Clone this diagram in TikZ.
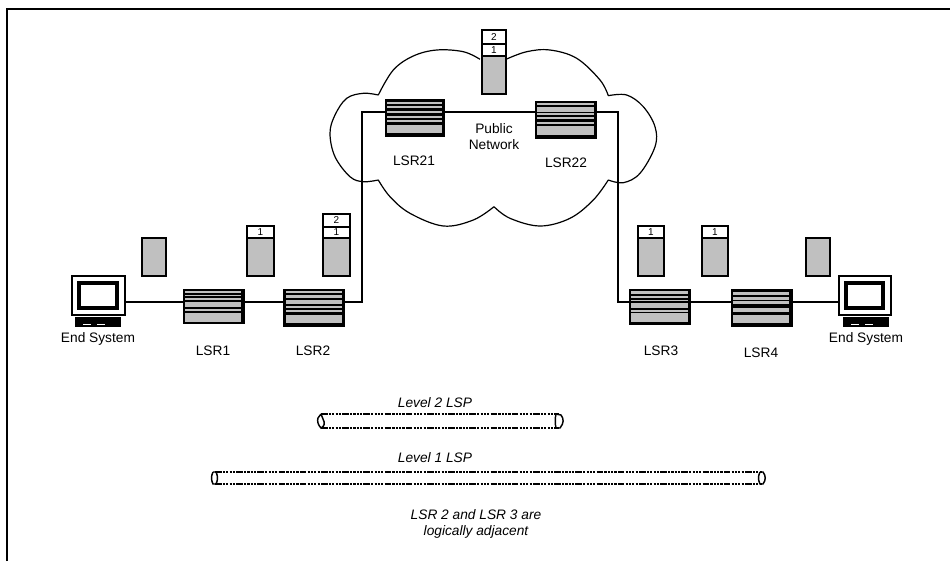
\documentclass[tikz,border=0pt]{standalone}
\usepackage{fontspec}
\setmainfont{Liberation Sans}
\definecolor{pk}{HTML}{C0C0C0}
\tikzset{
  x=0.75pt,y=-0.75pt,
  wire/.style={line width=0.9pt,black},
  lbl/.style={inner sep=0pt,font=\fontsize{10.3}{12}\selectfont},
  ilbl/.style={inner sep=0pt,font=\fontsize{10.3}{12}\selectfont\itshape},
  dig/.style={inner sep=0pt,font=\fontsize{7.5}{9}\selectfont},
  box/.style={draw=black,line width=0.9pt},
  pipeline/.style={line width=1.1pt,dash pattern=on 5pt off .9pt on 1.6pt off .9pt on 1.6pt off .9pt on 1.6pt off .9pt on 1.6pt off .9pt},
  pipeend/.style={line width=1.1pt},
  routerbox/.style={fill=black,inner sep=0pt,outer sep=0pt},
}
% name, x0, y0, x1, y1, inset left, inset right, stripes
\newcommand{\rtr}[8]{%
  \node[routerbox,minimum width={(#4-#2)*0.75pt},minimum height={(#5-#3)*0.75pt}] (#1) at ({(#2+#4)/2},{(#3+#5)/2}) {};
  \foreach \sa/\sb in {#8} {\fill[pk] ({#2+#6},{#3+\sa}) rectangle ({#4-#7},{#3+\sb});}%
}
\newcommand{\pkt}[5]{%
  \node[box,fill=pk,inner sep=0pt,minimum width={(#3-#2)*0.75pt},minimum height={(#5-#4)*0.75pt}] (#1) at ({(#2+#3)/2},{(#4+#5)/2}) {};
}
\newcommand{\lab}[6]{%
  \node[box,fill=white,dig,inner sep=0pt,minimum width={(#3-#2)*0.75pt},minimum height={(#5-#4)*0.75pt}] (#1) at ({(#2+#3)/2},{(#4+#5)/2}) {#6};
}
% name, monitor x0,y0,x1,y1, keyboard x0,x1
\newcommand{\pc}[7]{%
  \node[box,fill=white,inner sep=0pt,minimum width={(#4-#2)*0.75pt},minimum height={(#5-#3)*0.75pt}] (#1) at ({(#2+#4)/2},{(#3+#5)/2}) {};
  \fill[black] ({#2+5},{#3+5}) rectangle ({#4-6},{#5-5});
  \fill[white] ({#2+9},{#3+9}) rectangle ({#4-10},{#5-9});
  \fill[black] (#6,317) rectangle (#7,327);
  \fill[white] ({#6+8},323.5) rectangle ({#6+16},324.5);
  \fill[white] ({#6+22},323.5) rectangle ({#6+30},324.5);
}
\begin{document}
\begin{tikzpicture}
\useasboundingbox (0,0) rectangle (950,561);
% frame
\coordinate (fa) at (7,561);
\coordinate (fb) at (7,9);
\coordinate (fc) at (950,9);
\draw[line width=1.5pt,line cap=butt] (fa) -- (fb) -- (fc);
% cloud
\draw[wire,line join=round]
  plot[smooth,tension=0.6] coordinates {(480,59.3) (463.3,51.7) (436.7,50) (413.3,56) (393.3,70) (378.3,95)}
  plot[smooth,tension=0.6] coordinates {(378.3,95) (363.3,93.3) (346.7,98.3) (335,115) (330,133.3) (335,156.7) (350,176.7) (363.3,181.7) (378.3,180)}
  plot[smooth,tension=0.6] coordinates {(378.3,180) (390,196.7) (410,213.3) (443.3,226) (473.3,220) (494,206.7)}
  plot[smooth,tension=0.6] coordinates {(494,206.7) (510,218.3) (540,226) (570,218.3) (593.3,200) (608.3,180)}
  plot[smooth,tension=0.6] coordinates {(608.3,180) (623.3,182.7) (640,173.3) (655,146.7) (655,126.7) (643.3,106.7) (626.7,95) (608.3,95.7)}
  plot[smooth,tension=0.6] coordinates {(608.3,95.7) (600,80) (576.7,58.3) (550,50) (526.7,51.7) (506,59.3)};
% routers and hosts
\pc{pcl}{72}{276}{125}{315}{75}{121}
\pc{pcr}{839}{276}{891}{315}{843}{889}
\coordinate (rail) at (0,302);
\coordinate (topwire) at (0,112);
\coordinate (rightwire) at (618,0);
\coordinate (leftwire) at (362,0);
\rtr{lsr1}{183}{289}{245}{324}{2}{4}{2/3.7,5.5/7.3,9/10.7,13/18,20/22,24/33}
\rtr{lsr2}{283}{289}{345}{327}{3}{3}{1.7/3.7,6/9.3,11/15,17/19.3,21/22.7,26/33.7}
\rtr{lsr3}{629}{289}{691}{325}{2}{3}{2.3/4.7,6.7/9,10.7/12.3,14/19,21.3/23.3,24/33.3}
\rtr{lsr4}{731}{289}{793}{327}{2}{4}{3.3/5.7,8/10.7,11.7/14.7,19/23.3,25.7/34}
\rtr{lsr21}{385}{99}{445}{137}{2}{3}{3/4.5,7/9,11.7/14,17/19,21/22.7,26/34}
\rtr{lsr22}{535}{101}{597}{139}{2}{3}{2.3/4.3,6.3/10.7,12.3/14,15.7/18.3,20.7/23,25/34}
% connectors
\draw[wire] (pcl.east |- rail) -- (lsr1.west |- rail);
\draw[wire] (lsr1.east |- rail) -- (lsr2.west |- rail);
\draw[wire] (lsr2.east |- rail) -- (leftwire |- rail) -- (leftwire |- topwire) -- (lsr21.west |- topwire);
\draw[wire] (lsr21.east |- topwire) -- (lsr22.west |- topwire);
\draw[wire] (lsr22.east |- topwire) -- (rightwire |- topwire) -- (rightwire |- rail) -- (lsr3.west |- rail);
\draw[wire] (lsr3.east |- rail) -- (lsr4.west |- rail);
\draw[wire] (lsr4.east |- rail) -- (pcr.west |- rail);
% packets
\pkt{p1}{142}{166}{238}{276}
\pkt{p2}{247}{274}{238}{276}\lab{p2a}{247}{274}{226}{238}{1}
\pkt{p3}{323}{350}{238}{276}\lab{p3a}{323}{350}{227}{238}{1}\lab{p3b}{323}{350}{214}{227}{2}
\pkt{p4}{482}{506}{56}{94}\lab{p4a}{482}{506}{44}{56}{1}\lab{p4b}{482}{506}{30}{44}{2}
\pkt{p5}{638}{664}{238}{276}\lab{p5a}{638}{664}{226}{238}{1}
\pkt{p6}{702}{728}{238}{276}\lab{p6a}{702}{728}{226}{238}{1}
\pkt{p7}{806}{830}{238}{276}
% labels
\node[lbl] (t1) at (98,339) {End System};
\node[lbl] (t2) at (866,339) {End System};
\node[lbl] (t3) at (213,351) {LSR1};
\node[lbl] (t4) at (313,351) {LSR2};
\node[lbl] (t5) at (661,351) {LSR3};
\node[lbl] (t6) at (761,353) {LSR4};
\node[lbl] (t7) at (414,161) {LSR21};
\node[lbl] (t8) at (566,163) {LSR22};
\node[lbl,align=center] (t9) at (494,137) {Public\\Network};
% tunnels
\draw[pipeline] (321,414) -- (559,414);
\draw[pipeline] (321,428) -- (559,428);
\draw[pipeline] (215,472) -- (762,472);
\draw[pipeline] (215,484) -- (762,484);
\draw[pipeend] (321,414) -- (318,418) .. controls (317,421) and (318,425) .. (321,428) .. controls (325,426) and (325,423) .. (323,419) -- (321,414);
\draw[pipeend] (556,414) -- (561,415) .. controls (564,419) and (564,423) .. (560,428) -- (556,428) .. controls (555,424) and (555,418) .. (556,414);
\draw[pipeend] (213,472) -- (216,472) .. controls (218,476) and (218,480) .. (216,484) -- (213,484) .. controls (211,480) and (211,476) .. (213,472);
\draw[pipeend] (760,472) -- (763,472) .. controls (766,476) and (766,480) .. (763,484) -- (760,484) .. controls (758,480) and (758,476) .. (760,472);
\node[ilbl] (t10) at (435,403) {Level 2 LSP};
\node[ilbl] (t11) at (435,458) {Level 1 LSP};
\node[ilbl,align=center] (t12) at (476,524) {LSR 2 and LSR 3 are\\logically adjacent};
\end{tikzpicture}
\end{document}
